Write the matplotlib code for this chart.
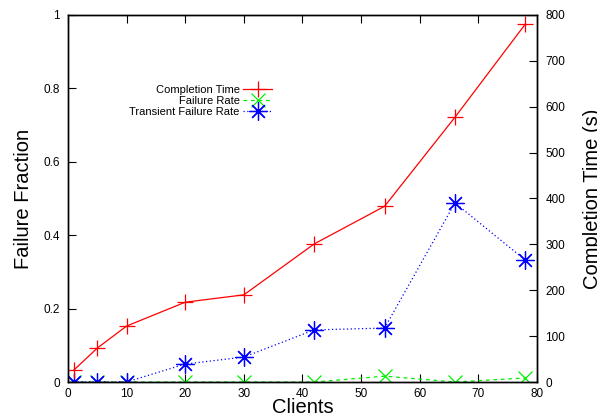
import matplotlib
matplotlib.use("Agg")
import matplotlib.pyplot as plt
from matplotlib.lines import Line2D

plt.rcParams['font.family'] = ['Liberation Sans', 'DejaVu Sans']

clients = [1, 5, 10, 20, 30, 42, 54, 66, 78]
completion_time = [26, 74, 122, 174, 190, 301, 383, 577, 780]
failure_rate = [0, 0, 0, 0, 0, 0, 0.016, 0, 0.011]
transient_rate = [0, 0, 0, 0.049, 0.068, 0.142, 0.147, 0.488, 0.332]

fig = plt.figure(figsize=(5.97, 4.16), dpi=100)
ax = fig.add_axes([0.1139, 0.0817, 0.7856, 0.8823])
ax2 = ax.twinx()

ax2.plot(clients, completion_time, color='#ff0000', lw=0.9, marker='+', ms=12, mew=0.9)
ax.plot(clients, failure_rate, color='#00ee00', lw=0.9, ls=(0, (3, 3)), marker='x', ms=10, mew=0.9)
ax.plot(clients, transient_rate, color='#0000ff', lw=0.9, ls=(0, (1, 2)), marker=(8, 2, 0), ms=13, mew=0.9)

ax.set_xlim(0, 80)
ax.set_ylim(0, 1)
ax2.set_ylim(0, 800)
ax.set_xticks(range(0, 81, 10))
ax.set_yticks([0, 0.2, 0.4, 0.6, 0.8, 1])
ax.set_yticklabels(['0', '0.2', '0.4', '0.6', '0.8', '1'])
ax2.set_yticks(range(0, 801, 100))

ax.tick_params(axis='x', direction='in', top=True, length=6, labelsize=8.5, pad=4)
ax.tick_params(axis='y', direction='in', length=6, labelsize=8.5, pad=6)
ax2.tick_params(axis='y', direction='in', length=6, labelsize=8.5, pad=6)

for a in (ax, ax2):
    for s in a.spines.values():
        s.set_linewidth(1.0)

ax.set_xlabel('Clients', fontsize=14.5, labelpad=-1.2)
ax.set_ylabel('Failure Fraction', fontsize=14.5, labelpad=7)
ax2.set_ylabel('Completion Time (s)', fontsize=14.5, labelpad=12.5)
ax2.yaxis.label.set_y(0.5)

handles = [
    Line2D([], [], color='#ff0000', lw=0.9, marker='+', ms=12, mew=0.9),
    Line2D([], [], color='#00ee00', lw=0.9, ls=(0, (3, 3)), marker='x', ms=10, mew=0.9),
    Line2D([], [], color='#0000ff', lw=0.9, ls=(0, (1, 2)), marker=(8, 2, 0), ms=13, mew=0.9),
]
labels = ['Completion Time', 'Failure Rate', 'Transient Failure Rate']
leg = ax2.legend(handles, labels, loc='upper left', bbox_to_anchor=(0.119, 0.825),
                 frameon=False, fontsize=8, markerfirst=False, handlelength=2.6,
                 labelspacing=0.1, handletextpad=0.3, borderpad=0)
for t in leg.get_texts():
    t.set_ha('right')
leg._legend_box.align = 'right'

fig.savefig('out.png', dpi=100)
